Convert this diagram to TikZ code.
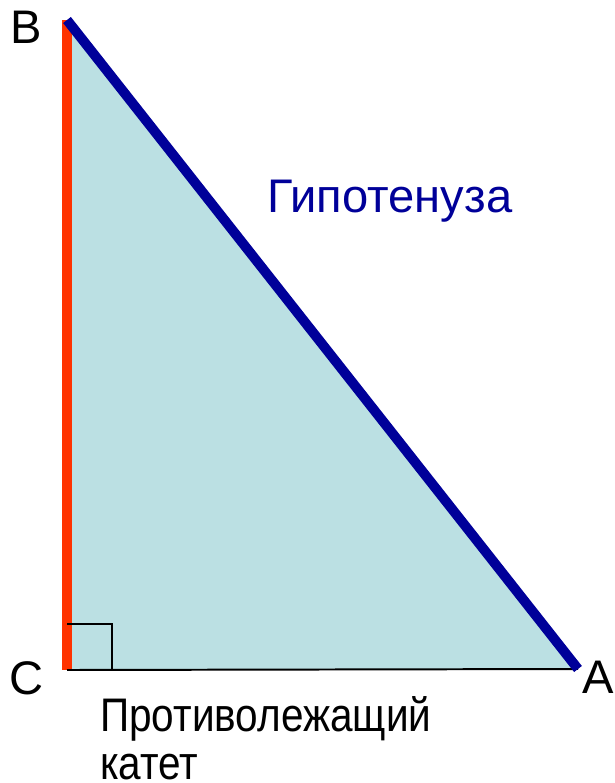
\documentclass[tikz,border=0pt]{standalone}
\usepackage{fontspec}
\setmainfont{Liberation Sans}
\newfontfamily\estrecha[FakeStretch=0.86]{Liberation Sans}
\definecolor{rellenoTri}{RGB}{187,224,227}
\definecolor{rojoCat}{RGB}{255,51,0}
\definecolor{azulHip}{RGB}{0,0,153}
\usetikzlibrary{positioning}

\begin{document}
\begin{tikzpicture}[x=0.025cm, y=-0.025cm,
    etiqueta/.style={font=\fontsize{33.5}{34}\selectfont, inner sep=0pt}]
  \useasboundingbox (0,0) rectangle (615,783);

  % Vertices
  \coordinate (B) at (67,20);
  \coordinate (C) at (67,670);
  \coordinate (A) at (578,669);
  \coordinate (rectoV) at (67,624);
  \coordinate (rectoH) at (112,670);

  % Triangulo
  \fill[rellenoTri] (B) -- (C) -- (A) -- cycle;
  \draw[rojoCat, line width=7pt] (B) -- (C);
  \draw[black, line width=1.4pt] (C) -- (A);
  % Angulo recto
  \draw[black, line width=1.1pt] (rectoV) -| (rectoH);
  \draw[azulHip, line width=7pt] (B) -- (A);

  % Etiquetas
  \node[etiqueta] (lblB) at (26,27) {B};
  \node[etiqueta] (lblC) at (27,678) {C};
  \node[etiqueta] (lblA) at (598,677) {A};
  \node[etiqueta, text=azulHip, anchor=base] (lblHip) at (390,212) {Гипотенуза};
  \node[etiqueta, font=\estrecha\fontsize{33.5}{34}\selectfont, align=left,
    anchor=north west] (lblCat) at (100,696) {Противолежащий\\катет};
\end{tikzpicture}
\end{document}
